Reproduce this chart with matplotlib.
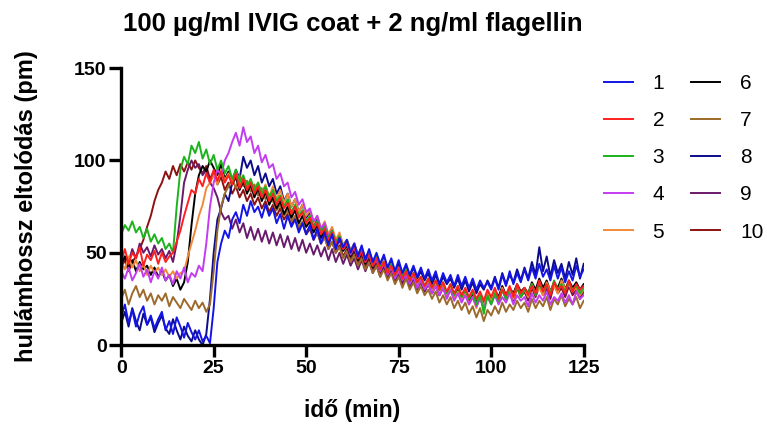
import numpy as np
import matplotlib
matplotlib.use("Agg")
import matplotlib.pyplot as plt

plt.rcParams['font.family'] = ['Liberation Sans', 'DejaVu Sans']

# wavelength shift (pm), one value per minute, 0..125 min
s1 = [15, 22, 12, 19, 10, 17, 21, 11, 16, 9, 14,
      18, 8, 13, 6, 15, 10, 4, 12, 7, 3,
      8, 2, 5, 1,
      20, 45, 55, 62, 58, 68, 72, 66, 76, 70, 78, 72, 75, 69, 76, 70,
      74, 66, 71, 63, 70, 64, 68, 61, 66, 60,
      65, 57, 63, 55, 61, 54, 60, 52, 58, 53,
      57, 50, 55, 48, 54, 46, 52, 45, 50, 44,
      49, 42, 47, 40, 46, 39, 44, 38, 43, 37,
      42, 36, 41, 35, 40, 33, 39, 34, 38, 32,
      38, 32, 37, 31, 36, 30, 35, 31, 34, 30,
      36, 30, 38, 32, 40, 33, 39, 34, 41, 35,
      42, 36, 44, 37, 41, 35, 43, 36, 42, 34, 40, 35, 43, 37, 41]
s2 = [45, 52, 44, 50, 47, 53, 43, 49, 46, 51, 44,
      50, 45, 48, 50, 56, 62, 70, 77, 84, 82,
      90, 86, 93, 88,
      95, 89, 94, 88, 92, 87, 93, 85, 90, 84, 88, 82, 86, 80, 84, 78,
      82, 76, 80, 74, 77, 71, 75, 69, 72, 66,
      69, 63, 66, 60, 63, 57, 61, 55, 58, 52,
      55, 50, 53, 47, 51, 45, 49, 43, 47, 41,
      45, 39, 43, 38, 42, 36, 40, 35, 39, 34,
      37, 32, 36, 31, 35, 30, 34, 29, 33, 28,
      32, 27, 31, 26, 30, 25, 29, 24, 30, 26,
      31, 25, 30, 27, 32, 26, 33, 28, 31, 27,
      32, 28, 35, 29, 33, 27, 34, 30, 32, 28, 35, 29, 33, 30, 32]
s3 = [60, 65, 62, 67, 61, 64, 58, 63, 56, 60, 55,
      58, 52, 55, 50, 75, 95, 102, 98, 108, 104,
      110, 101, 106, 98,
      103, 95, 100, 93, 97, 90, 95, 88, 92, 86, 90, 84, 88, 82, 86, 80,
      84, 78, 81, 75, 79, 72, 76, 70, 73, 67,
      70, 64, 67, 61, 64, 58, 62, 56, 59, 53,
      56, 51, 54, 48, 52, 46, 50, 44, 48, 42,
      45, 40, 44, 38, 42, 37, 41, 35, 39, 34,
      37, 32, 36, 31, 35, 30, 34, 28, 33, 27,
      32, 26, 30, 25, 29, 22, 28, 17, 27, 22,
      28, 24, 30, 25, 31, 27, 32, 26, 30, 28,
      33, 27, 34, 29, 32, 28, 35, 30, 33, 29, 34, 30, 32, 28, 31]
s4 = [40, 36, 42, 35, 39, 44, 37, 41, 34, 40, 36,
      42, 35, 38, 33, 40, 36, 42, 34, 39, 37,
      43, 40, 55, 75,
      88, 95, 92, 100, 104, 110, 115, 108, 118, 110, 113, 104, 108, 99, 103, 96,
      98, 90, 93, 86, 88, 80, 83, 76, 79, 72,
      74, 67, 70, 63, 66, 59, 62, 55, 58, 52,
      55, 49, 53, 47, 51, 45, 49, 43, 46, 40,
      44, 38, 42, 36, 40, 35, 38, 33, 37, 31,
      35, 30, 33, 28, 32, 27, 31, 25, 30, 24,
      28, 23, 27, 22, 26, 21, 25, 20, 26, 22,
      27, 22, 26, 23, 28, 22, 27, 24, 26, 21,
      28, 23, 27, 24, 29, 22, 26, 24, 28, 23, 27, 22, 29, 25, 27]
s5 = [45, 41, 48, 42, 46, 40, 44, 38, 43, 39, 42,
      38, 41, 37, 40, 36, 39, 40, 48, 55, 62,
      70, 76, 85, 88,
      92, 87, 95, 89, 93, 88, 94, 86, 91, 85, 89, 83, 88, 82, 87, 80,
      86, 79, 84, 77, 82, 75, 79, 72, 76, 70,
      73, 66, 70, 63, 67, 60, 64, 57, 61, 54,
      57, 51, 55, 48, 52, 46, 50, 43, 48, 42,
      46, 40, 44, 38, 42, 36, 40, 35, 38, 33,
      36, 31, 35, 29, 33, 28, 32, 27, 31, 25,
      29, 24, 28, 22, 26, 20, 27, 21, 28, 24,
      29, 24, 31, 26, 30, 25, 32, 27, 30, 26,
      33, 28, 31, 27, 34, 29, 32, 28, 35, 30, 33, 29, 31, 27, 30]
s6 = [44, 48, 42, 46, 40, 45, 41, 43, 38, 42, 37,
      40, 35, 38, 32, 36, 30, 34, 45, 65, 82,
      92, 97, 94, 100,
      96, 92, 98, 90, 94, 87, 91, 84, 89, 82, 87, 80, 85, 78, 83, 76,
      80, 74, 78, 71, 75, 69, 73, 66, 70, 64,
      67, 61, 65, 58, 62, 56, 60, 53, 57, 51,
      54, 48, 52, 46, 50, 44, 48, 42, 46, 40,
      43, 38, 42, 36, 40, 35, 39, 33, 37, 32,
      35, 30, 34, 29, 33, 28, 32, 27, 31, 27,
      30, 26, 29, 25, 28, 23, 27, 22, 28, 25,
      30, 26, 32, 27, 31, 28, 33, 29, 31, 28,
      34, 30, 36, 31, 35, 29, 34, 31, 36, 30, 35, 31, 34, 30, 33]
s7 = [25, 30, 22, 28, 32, 26, 30, 24, 28, 22, 27,
      24, 28, 21, 26, 23, 20, 25, 22, 19, 24,
      20, 23, 18, 22,
      40, 62, 75, 82, 86, 90, 85, 92, 86, 89, 83, 87, 81, 85, 79, 82,
      78, 73, 76, 70, 73, 67, 70, 64, 67, 61,
      64, 58, 61, 55, 58, 52, 56, 50, 53, 47,
      51, 45, 49, 43, 47, 41, 45, 39, 43, 37,
      41, 35, 39, 33, 37, 31, 36, 30, 34, 28,
      32, 27, 30, 25, 29, 23, 27, 22, 26, 20,
      24, 19, 23, 17, 21, 15, 20, 13, 19, 16,
      21, 17, 23, 18, 22, 19, 24, 20, 23, 18,
      25, 20, 24, 21, 26, 19, 25, 22, 27, 21, 25, 22, 26, 20, 24]
s8 = [12, 18, 10, 20, 13, 8, 17, 11, 15, 7, 12,
      16, 9, 6, 14, 8, 3, 10, 5, 2, 8,
      3, 0, 6, 25,
      50, 68, 74, 82, 78, 88, 95, 90, 102, 96, 100, 92, 97, 88, 93, 86,
      90, 82, 86, 78, 82, 75, 79, 72, 76, 69,
      72, 65, 69, 62, 66, 59, 63, 56, 60, 54,
      57, 51, 55, 49, 53, 47, 51, 45, 49, 43,
      47, 41, 45, 40, 44, 38, 43, 37, 42, 36,
      40, 35, 39, 33, 38, 32, 37, 33, 36, 31,
      36, 30, 35, 29, 34, 28, 33, 30, 35, 31,
      37, 31, 39, 33, 38, 34, 41, 35, 42, 36,
      45, 38, 53, 40, 48, 37, 46, 39, 44, 36, 45, 38, 47, 36, 44]
s9 = [42, 48, 45, 52, 47, 55, 50, 53, 48, 54, 49,
      52, 47, 51, 45, 55, 70, 88, 95, 100, 96,
      98, 92, 95, 88,
      85, 80, 72, 68, 70, 63, 68, 61, 66, 58, 64, 57, 63, 56, 62, 55,
      61, 54, 60, 53, 59, 52, 58, 51, 57, 50,
      55, 49, 54, 48, 53, 46, 52, 45, 50, 44,
      49, 43, 47, 41, 46, 40, 45, 39, 43, 37,
      42, 36, 40, 34, 39, 33, 38, 32, 36, 30,
      35, 29, 34, 28, 33, 27, 32, 26, 31, 25,
      30, 25, 29, 24, 28, 22, 27, 21, 28, 24,
      29, 24, 31, 25, 30, 26, 32, 27, 30, 25,
      32, 27, 33, 28, 31, 26, 34, 29, 32, 27, 33, 28, 31, 26, 30]
s10 = [42, 46, 40, 45, 48, 52, 57, 64, 70, 78, 84,
       88, 94, 90, 97, 92, 98, 94, 99, 95, 100,
       96, 93, 97, 90,
       94, 87, 91, 84, 88, 82, 86, 80, 84, 78, 82, 76, 80, 74, 78, 72,
       76, 70, 74, 68, 71, 65, 69, 63, 66, 60,
       63, 57, 61, 55, 59, 52, 56, 50, 54, 48,
       52, 46, 50, 44, 48, 42, 46, 40, 44, 38,
       42, 37, 41, 35, 39, 34, 38, 32, 36, 31,
       34, 29, 33, 28, 32, 27, 31, 26, 30, 25,
       29, 24, 28, 23, 27, 21, 26, 20, 27, 23,
       28, 23, 30, 25, 29, 24, 31, 26, 29, 24,
       31, 26, 32, 27, 30, 25, 33, 28, 31, 26, 32, 27, 30, 25, 29]

series = [s1, s2, s3, s4, s5, s6, s7, s8, s9, s10]
labels = ['1', '2', '3', '4', '5', '6', '7', '8', '9', '10']
colors = ['#1414e6', '#ff1f1f', '#1cb31c', '#c23cf0', '#f2893a',
          '#000000', '#9c6a2a', '#0c0c8a', '#6a1a6a', '#8c1212']

fig = plt.figure(figsize=(7.67, 4.26), dpi=100)
ax = fig.add_axes([0.158, 0.190, 0.603, 0.650])

# draw last series first so series 1 sits on top (as in the original)
lines = {}
for vals, lab, col in reversed(list(zip(series, labels, colors))):
    t = np.arange(len(vals))
    ln, = ax.plot(t, vals, color=col, lw=1.4, label=lab)
    lines[lab] = ln

ax.set_xlim(0, 125)
ax.set_ylim(0, 150)
ax.set_xticks([0, 25, 50, 75, 100, 125])
ax.set_yticks([0, 50, 100, 150])
for side in ['top', 'right']:
    ax.spines[side].set_visible(False)
for side in ['left', 'bottom']:
    ax.spines[side].set_linewidth(2.4)
ax.tick_params(width=2.4, length=8.5, labelsize=14, pad=2)
for lbl in ax.get_xticklabels() + ax.get_yticklabels():
    lbl.set_fontweight('bold')

ax.set_xlabel('idő (min)', fontsize=16.5, fontweight='bold', labelpad=16)
ax.set_ylabel('hullámhossz eltolódás (pm)', fontsize=17, fontweight='bold', labelpad=26)
ax.set_title('100 µg/ml IVIG coat + 2 ng/ml flagellin', fontsize=18.5,
             fontweight='bold', pad=27)

handles = [lines[l] for l in labels]
fig.legend(handles, labels, loc='upper left', bbox_to_anchor=(0.787, 0.826),
           ncol=2, frameon=False, fontsize=15, handlelength=1.4,
           labelspacing=0.87, columnspacing=1.3, handletextpad=0.95,
           borderaxespad=0, borderpad=0)

fig.savefig('out.png', dpi=100)
